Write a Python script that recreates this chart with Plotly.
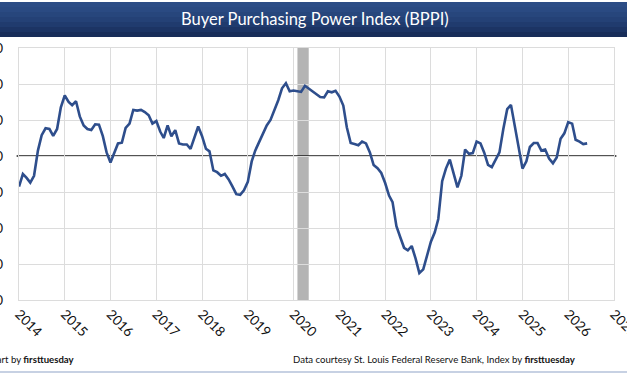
import pandas as pd
import plotly.graph_objects as go

# Monthly BPPI values, Jan 2014 .. Jun 2026
bppi = [
    91.5, 95.0, 94.0, 92.6, 94.5, 101.5, 105.8, 107.7, 107.5, 105.6, 107.5, 113.5,   # 2014
    116.8, 115.0, 114.1, 115.2, 111.0, 108.5, 107.5, 107.2, 108.8, 108.7, 105.5, 101.0,  # 2015
    98.2, 100.8, 103.5, 103.7, 107.8, 109.0, 112.8, 112.6, 112.8, 112.2, 111.3, 109.0,  # 2016
    109.7, 106.8, 105.0, 108.5, 105.5, 107.2, 103.5, 103.2, 103.2, 102.0, 105.0, 108.2,  # 2017
    105.5, 102.0, 101.3, 96.0, 95.5, 94.5, 95.0, 93.5, 91.5, 89.4, 89.2, 90.5,  # 2018
    92.8, 98.5, 101.5, 103.8, 106.0, 108.5, 110.0, 112.5, 115.5, 118.8, 120.2, 118.0,  # 2019
    118.2, 118.0, 117.8, 119.5, 118.7, 118.0, 117.1, 116.4, 116.3, 118.0, 117.7, 118.1,  # 2020
    116.5, 114.0, 108.0, 103.6, 103.3, 103.0, 104.0, 103.5, 101.0, 97.5, 96.6, 95.3,  # 2021
    92.5, 89.0, 87.2, 80.5, 77.5, 74.5, 73.8, 75.0, 71.5, 67.5, 68.5, 72.5,  # 2022
    76.2, 78.8, 82.5, 93.0, 96.5, 99.0, 95.0, 91.3, 94.5, 101.8, 100.6, 100.8,  # 2023
    104.0, 103.5, 101.0, 97.5, 96.9, 99.0, 101.0, 107.5, 113.0, 114.2, 108.2, 103.0,  # 2024
    96.5, 98.5, 102.5, 103.6, 103.6, 101.5, 101.8, 99.3, 98.0, 99.6, 104.8, 106.3,  # 2025
    109.4, 109.0, 104.5, 104.0, 103.3, 103.5,  # 2026
]
months = pd.date_range("2014-01-01", periods=len(bppi), freq="MS")

y_ticks = [60, 70, 80, 90, 100, 110, 120, 130]
baseline = 100
recession_start, recession_end = "2020-02-01", "2020-05-01"
title = "Buyer Purchasing Power Index (BPPI)"
left_note = "Chart by <b>firsttuesday</b>"
right_note = "Data courtesy St. Louis Federal Reserve Bank, Index by <b>firsttuesday</b>"

fig = go.Figure()
fig.add_trace(go.Scatter(x=months, y=bppi, mode="lines",
                         line=dict(color="#2E4E8C", width=2.6), hoverinfo="skip"))

shapes = []
# title bar gradient (stacked stripes)
bar_cols = ["#2c4d86", "#2a4a82", "#27467c", "#244176", "#203b6e", "#1c3464", "#182d59"]
n = len(bar_cols)
top, bot = 2, 37
for i, c in enumerate(bar_cols):
    y0 = top + (bot - top) * i / n
    y1 = top + (bot - top) * (i + 1) / n
    shapes.append(dict(type="rect", xref="paper", yref="paper", layer="below",
                       x0=-0.2, x1=1.2, y0=1 + (48 - y0) / 252, y1=1 + (48 - y1) / 252,
                       fillcolor=c, line=dict(width=0)))
# recession band
shapes.append(dict(type="rect", xref="x", yref="paper", layer="between",
                   x0=recession_start, x1=recession_end, y0=0, y1=1,
                   fillcolor="#b4b4b4", line=dict(width=0)))
# baseline at 100
shapes.append(dict(type="line", xref="paper", yref="y", layer="between",
                   x0=-0.004, x1=1.004, y0=baseline, y1=baseline,
                   line=dict(color="#1a1a1a", width=1.6)))
# bottom rule
shapes.append(dict(type="line", xref="paper", yref="paper", layer="above",
                   x0=-0.2, x1=1.2, y0=(300 - 372) / 252, y1=(300 - 372) / 252,
                   line=dict(color="#8fa3c8", width=1.2)))

fig.update_layout(
    width=627, height=376,
    margin=dict(l=19, r=13, t=48, b=76, autoexpand=False),
    paper_bgcolor="white", plot_bgcolor="white",
    showlegend=False,
    shapes=shapes,
    font=dict(family="Lato, Carlito, Calibri, sans-serif", color="#111"),
    annotations=[
        dict(text=title, xref="paper", yref="paper", x=0.497, y=1 + (48 - 19.5) / 252,
             xanchor="center", yanchor="middle", showarrow=False,
             font=dict(size=16.5, color="white", family="Lato, Carlito, Calibri, sans-serif")),
        dict(text=left_note, xref="paper", yref="paper", x=(77 - 19) / 595, y=(300 - 359) / 252,
             xanchor="right", yanchor="middle", showarrow=False,
             font=dict(size=9.6, color="#111")),
        dict(text=right_note, xref="paper", yref="paper", x=(578 - 19) / 595, y=(300 - 359) / 252,
             xanchor="right", yanchor="middle", showarrow=False,
             font=dict(size=9.6, color="#111")),
    ],
)
fig.update_xaxes(type="date", range=["2014-01-01", "2027-01-01 06:00"],
                 tick0="2014-01-01", dtick="M12", tickformat="%Y", automargin=False,
                 ticklabeloverflow="allow",
                 tickangle=45, showgrid=True, gridcolor="#dcdcdc", gridwidth=1.3,
                 showline=True, linecolor="#dcdcdc", linewidth=1.3, mirror=True,
                 zeroline=False, tickfont=dict(size=13.5, color="#111"))
fig.update_yaxes(range=[60, 130], tickvals=y_ticks, showgrid=True, automargin=False,
                 gridcolor="#dcdcdc", gridwidth=1.3,
                 showline=True, linecolor="#dcdcdc", linewidth=1.3, mirror=True,
                 zeroline=False, ticklabelstandoff=12, tickfont=dict(size=13.5, color="#111"))

fig.write_html("out.html")
